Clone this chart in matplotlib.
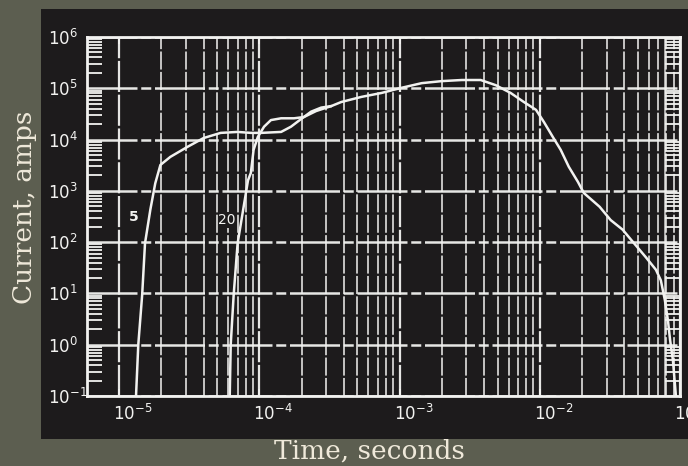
import numpy as np
import matplotlib
matplotlib.use("Agg")
import matplotlib.pyplot as plt
from matplotlib import font_manager
from matplotlib.patches import Rectangle
from matplotlib.ticker import FixedLocator, NullFormatter
from matplotlib.transforms import ScaledTranslation

# ── Data ─────────────────────────────────────────────────────────────────────
# curve "5": rising branch up to where it joins curve "20"
T5 = [1.32e-5, 1.37e-5, 1.46e-5, 1.53e-5, 1.67e-5, 1.81e-5, 1.97e-5, 2.32e-5,
      3.07e-5, 4.0e-5, 5.3e-5, 7.0e-5, 8.7e-5, 1.03e-4, 1.43e-4, 1.68e-4,
      1.98e-4, 2.34e-4, 2.76e-4, 3.26e-4]
I5 = [0.1, 1.0, 9.3, 95, 430, 1400, 3200, 4600,
      7200, 1.07e4, 1.35e4, 1.41e4, 1.35e4, 1.35e4, 1.41e4, 1.78e4,
      2.5e4, 3.5e4, 4.2e4, 4.5e4]

# curve "20": rising branch up to the join
T20 = [6.15e-5, 6.25e-5, 6.56e-5, 7.0e-5, 7.6e-5, 8.3e-5, 8.7e-5, 9.1e-5,
       9.75e-5, 1.08e-4, 1.21e-4, 1.43e-4, 1.77e-4, 2.08e-4, 2.54e-4, 3.26e-4]
I20 = [0.1, 1.0, 9.3, 95, 370, 1600, 2240, 6300,
       1.12e4, 1.78e4, 2.4e4, 2.6e4, 2.6e4, 2.75e4, 3.6e4, 4.5e4]

# common part of both curves (plateau and decay)
T_COMMON = [3.26e-4, 3.84e-4, 5.35e-4, 7.43e-4, 1.03e-3, 1.44e-3, 2.0e-3,
            2.78e-3, 3.79e-3, 4.85e-3, 6.2e-3, 7.7e-3, 9.4e-3, 1.07e-2,
            1.24e-2, 1.41e-2, 1.61e-2, 1.87e-2, 2.06e-2, 2.67e-2, 3.2e-2,
            3.9e-2, 4.6e-2, 5.7e-2, 6.73e-2, 7.3e-2, 7.8e-2, 8.2e-2, 8.5e-2,
            8.9e-2, 9.35e-2]
I_COMMON = [4.5e4, 5.4e4, 6.8e4, 8.1e4, 1.02e5, 1.26e5, 1.38e5,
            1.45e5, 1.45e5, 1.15e5, 8.1e4, 5.4e4, 3.8e4, 2.2e4,
            1.12e4, 6300, 2950, 1500, 910, 490, 270,
            175, 102, 51, 29, 18, 7.4, 3.0, 1.23,
            0.5, 0.1]

X_DECADES = [1e-5, 1e-4, 1e-3, 1e-2, 1e-1]
X_LABELS = [r"$\mathregular{10^{-5}}$", r"$\mathregular{10^{-4}}$",
            r"$\mathregular{10^{-3}}$", r"$\mathregular{10^{-2}}$",
            r"$\mathregular{10^{-1}}$"]
Y_DECADES = [1e-1, 1e0, 1e1, 1e2, 1e3, 1e4, 1e5, 1e6]
Y_LABELS = [r"$\mathregular{10^{-1}}$", r"$\mathregular{10^{0}}$",
            r"$\mathregular{10^{1}}$", r"$\mathregular{10^{2}}$",
            r"$\mathregular{10^{3}}$", r"$\mathregular{10^{4}}$",
            r"$\mathregular{10^{5}}$", r"$\mathregular{10^{6}}$"]

# ── Style ────────────────────────────────────────────────────────────────────
BG = "#5c5e50"
PANEL = "#1d1b1c"
INK = "#f2f2f0"
LABEL = "#efe9da"

# narrow sans for the tick numbers, if one is around
names = {f.name for f in font_manager.fontManager.ttflist}
if "Liberation Sans Narrow" in names:
    tick_font = "Liberation Sans Narrow"
else:
    tick_font = "DejaVu Sans:stretch=condensed"
plt.rcParams["mathtext.fontset"] = "custom"
plt.rcParams["mathtext.rm"] = tick_font
plt.rcParams["mathtext.it"] = tick_font
plt.rcParams["mathtext.bf"] = tick_font

W, H = 688, 466
fig = plt.figure(figsize=(W / 100, H / 100), dpi=100)
fig.patch.set_facecolor(BG)

# black scanned panel
fig.patches.append(Rectangle((41 / W, 1 - 439 / H), 1 - 41 / W, 430 / H,
                             transform=fig.transFigure, facecolor=PANEL,
                             edgecolor="none", zorder=-1))

ax = fig.add_axes([87 / W, 1 - 396 / H, (680 - 87) / W, (396 - 37) / H])
ax.set_zorder(1)
ax.set_facecolor(PANEL)
ax.set_xscale("log")
ax.set_yscale("log")
ax.set_xlim(10 ** -5.229, 0.1)
ax.set_ylim(0.1, 1e6)

# ── Grid ─────────────────────────────────────────────────────────────────────
x_minor = [k * d for d in X_DECADES[:-1] for k in range(2, 10)]
ax.xaxis.set_major_locator(FixedLocator(X_DECADES))
ax.xaxis.set_minor_locator(FixedLocator(x_minor))
ax.xaxis.set_minor_formatter(NullFormatter())
ax.yaxis.set_major_locator(FixedLocator(Y_DECADES))
y_minor = [k * d for d in Y_DECADES[:-1] for k in range(2, 10)]
ax.yaxis.set_minor_locator(FixedLocator(y_minor))
ax.yaxis.set_minor_formatter(NullFormatter())

ax.grid(True, which="major", axis="x", color=INK, linewidth=1.6,
        linestyle=(0, (14, 1.2)), alpha=0.95)
ax.grid(True, which="minor", axis="x", color=INK, linewidth=1.3,
        linestyle=(0, (10, 1.3)), alpha=0.85)
ax.grid(True, which="major", axis="y", color=INK, linewidth=1.8,
        linestyle=(0, (20, 1.5, 4, 1.5)), alpha=0.95)
ax.set_axisbelow(True)

# strip of scanned boxes along the right edge
ax.axvline(10 ** -1.107, color=INK, linewidth=1.2, alpha=0.8)

for spine in ax.spines.values():
    spine.set_color(INK)
    spine.set_linewidth(2)

ax.tick_params(axis="both", which="major", length=0, colors=INK)
ax.tick_params(axis="y", which="minor", direction="in", length=11,
               width=1.3, color=INK, left=True, right=True)
ax.tick_params(axis="x", which="minor", length=0)
ax.tick_params(axis="x", which="major", direction="in", length=5,
               width=1.3, top=True, pad=6)
ax.tick_params(axis="y", which="major", pad=28)

ax.set_xticklabels(X_LABELS, fontsize=12, color=INK, ha="left")
ax.set_yticklabels(Y_LABELS, fontsize=12, color=INK, ha="left")
shift = ScaledTranslation(-0.06, 0, fig.dpi_scale_trans)
for lab in ax.get_xticklabels():
    lab.set_transform(lab.get_transform() + shift)

# ── Curves ───────────────────────────────────────────────────────────────────
lw = 1.8
ax.plot(T5, I5, color=INK, linewidth=lw, solid_capstyle="round", zorder=3)
ax.plot(T20, I20, color=INK, linewidth=lw, solid_capstyle="round", zorder=3)
ax.plot(T_COMMON, I_COMMON, color=INK, linewidth=lw,
        solid_capstyle="round", zorder=3)

ax.text(10 ** -4.893, 10 ** 2.49, "5", color=INK, fontsize=10,
        fontweight="bold", ha="center", va="center", zorder=4)
ax.text(10 ** -4.229, 10 ** 2.43, "20", color=INK, fontsize=10,
        ha="center", va="center", zorder=4,
        bbox=dict(facecolor=PANEL, edgecolor="none", pad=0.5))

# ── Axis titles ──────────────────────────────────────────────────────────────
fig.text(369 / W, 1 - 451 / H, "Time, seconds", family="DejaVu Serif",
         fontsize=19, color=LABEL, ha="center", va="center")
fig.text(25 / W, 1 - 207 / H, "Current, amps", family="DejaVu Serif",
         fontsize=19, color=LABEL, ha="center", va="center", rotation=90)

fig.savefig("out.png", dpi=100, facecolor=fig.get_facecolor())
